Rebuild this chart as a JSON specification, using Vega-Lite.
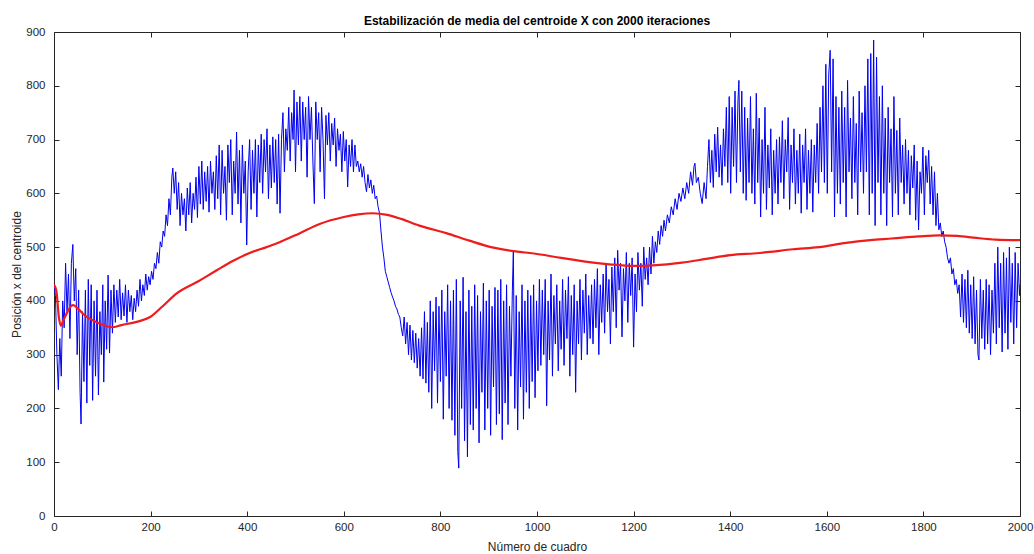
{
  "$schema": "https://vega.github.io/schema/vega-lite/v6.json",
  "autosize": "none",
  "width": 966,
  "height": 484,
  "padding": {"left": 54, "top": 32, "right": 14, "bottom": 38},
  "background": "white",
  "config": {
    "font": "Liberation Sans",
    "view": {"stroke": "#262626", "strokeWidth": 1},
    "axis": {
      "grid": false,
      "domain": false,
      "tickColor": "#262626",
      "tickSize": -5,
      "tickWidth": 1,
      "labelColor": "#262626",
      "labelFont": "Liberation Sans",
      "labelFontSize": 11.5,
      "labelFlush": false,
      "labelOverlap": false,
      "format": "d",
      "titleColor": "#262626",
      "titleFont": "Liberation Sans",
      "titleFontSize": 12,
      "titleFontWeight": "normal"
    }
  },
  "title": {
    "text": "Estabilización de media del centroide X con 2000 iteraciones",
    "anchor": "middle",
    "frame": "group",
    "font": "Liberation Sans",
    "fontSize": 12,
    "fontWeight": "bold",
    "color": "#000000",
    "baseline": "bottom",
    "offset": -14
  },
  "datasets": {
    "posicion": [
      {"cuadro":0,"x":430},{"cuadro":3,"x":410},{"cuadro":6,"x":300},{"cuadro":9,"x":235},{"cuadro":12,"x":330},{"cuadro":15,"x":260},{"cuadro":18,"x":400},{"cuadro":21,"x":350},{"cuadro":24,"x":470},{"cuadro":27,"x":380},{"cuadro":30,"x":450},{"cuadro":33,"x":330},{"cuadro":36,"x":470},{"cuadro":39,"x":505},{"cuadro":42,"x":400},{"cuadro":45,"x":460},{"cuadro":48,"x":300},{"cuadro":51,"x":420},{"cuadro":54,"x":230},{"cuadro":56,"x":171},{"cuadro":59,"x":380},
      {"cuadro":62,"x":250},{"cuadro":65,"x":420},{"cuadro":68,"x":210},{"cuadro":71,"x":440},{"cuadro":74,"x":280},{"cuadro":77,"x":430},{"cuadro":80,"x":215},{"cuadro":83,"x":400},{"cuadro":86,"x":260},{"cuadro":89,"x":420},{"cuadro":92,"x":225},{"cuadro":95,"x":380},{"cuadro":98,"x":300},{"cuadro":101,"x":430},{"cuadro":103,"x":249},{"cuadro":106,"x":400},{"cuadro":109,"x":310},{"cuadro":112,"x":448},{"cuadro":115,"x":303},{"cuadro":118,"x":420},
      {"cuadro":121,"x":340},{"cuadro":124,"x":430},{"cuadro":127,"x":360},{"cuadro":130,"x":420},{"cuadro":133,"x":370},{"cuadro":136,"x":440},{"cuadro":139,"x":365},{"cuadro":142,"x":415},{"cuadro":145,"x":372},{"cuadro":148,"x":430},{"cuadro":151,"x":360},{"cuadro":154,"x":420},{"cuadro":157,"x":380},{"cuadro":160,"x":410},{"cuadro":163,"x":365},{"cuadro":166,"x":405},{"cuadro":169,"x":380},{"cuadro":172,"x":420},{"cuadro":175,"x":390},{"cuadro":178,"x":440},{"cuadro":181,"x":400},{"cuadro":184,"x":430},{"cuadro":187,"x":410},{"cuadro":190,"x":450},{"cuadro":193,"x":420},{"cuadro":196,"x":445},{"cuadro":199,"x":430},
      {"cuadro":202,"x":455},{"cuadro":205,"x":440},{"cuadro":208,"x":470},{"cuadro":211,"x":460},{"cuadro":214,"x":490},{"cuadro":217,"x":470},{"cuadro":220,"x":510},{"cuadro":223,"x":500},{"cuadro":226,"x":530},{"cuadro":229,"x":520},{"cuadro":232,"x":560},{"cuadro":235,"x":540},{"cuadro":238,"x":590},{"cuadro":241,"x":560},{"cuadro":244,"x":630},{"cuadro":246,"x":647},{"cuadro":249,"x":600},
      {"cuadro":252,"x":640},{"cuadro":255,"x":570},{"cuadro":258,"x":620},{"cuadro":261,"x":540},{"cuadro":264,"x":600},{"cuadro":267,"x":560},{"cuadro":270,"x":590},{"cuadro":273,"x":530},{"cuadro":276,"x":610},{"cuadro":279,"x":560},{"cuadro":282,"x":620},{"cuadro":285,"x":545},{"cuadro":288,"x":600},{"cuadro":291,"x":570},{"cuadro":294,"x":630},{"cuadro":297,"x":555},{"cuadro":300,"x":650},
      {"cuadro":303,"x":580},{"cuadro":306,"x":660},{"cuadro":309,"x":570},{"cuadro":312,"x":640},{"cuadro":315,"x":585},{"cuadro":318,"x":650},{"cuadro":321,"x":565},{"cuadro":324,"x":660},{"cuadro":327,"x":600},{"cuadro":330,"x":640},{"cuadro":333,"x":570},{"cuadro":336,"x":670},{"cuadro":339,"x":590},{"cuadro":342,"x":690},{"cuadro":345,"x":560},{"cuadro":348,"x":680},{"cuadro":351,"x":600},{"cuadro":354,"x":650},{"cuadro":357,"x":550},{"cuadro":360,"x":690},{"cuadro":363,"x":620},{"cuadro":366,"x":700},{"cuadro":369,"x":560},{"cuadro":372,"x":660},{"cuadro":375,"x":600},{"cuadro":378,"x":714},{"cuadro":381,"x":580},{"cuadro":384,"x":680},{"cuadro":387,"x":545},{"cuadro":390,"x":690},{"cuadro":393,"x":600},{"cuadro":396,"x":660},{"cuadro":399,"x":504},
      {"cuadro":402,"x":640},{"cuadro":405,"x":700},{"cuadro":408,"x":570},{"cuadro":411,"x":680},{"cuadro":414,"x":600},{"cuadro":417,"x":700},{"cuadro":420,"x":556},{"cuadro":423,"x":690},{"cuadro":426,"x":620},{"cuadro":429,"x":710},{"cuadro":432,"x":600},{"cuadro":435,"x":700},{"cuadro":438,"x":640},{"cuadro":441,"x":720},{"cuadro":444,"x":590},{"cuadro":447,"x":690},{"cuadro":450,"x":610},{"cuadro":453,"x":705},{"cuadro":456,"x":620},{"cuadro":459,"x":700},{"cuadro":462,"x":580},{"cuadro":465,"x":710},{"cuadro":468,"x":563},
      {"cuadro":471,"x":700},{"cuadro":474,"x":750},{"cuadro":477,"x":640},{"cuadro":480,"x":720},{"cuadro":483,"x":680},{"cuadro":486,"x":760},{"cuadro":489,"x":660},{"cuadro":492,"x":750},{"cuadro":495,"x":700},{"cuadro":497,"x":792},{"cuadro":500,"x":640},{"cuadro":503,"x":770},{"cuadro":506,"x":690},{"cuadro":509,"x":780},
      {"cuadro":512,"x":660},{"cuadro":515,"x":770},{"cuadro":518,"x":700},{"cuadro":521,"x":760},{"cuadro":524,"x":630},{"cuadro":527,"x":780},{"cuadro":530,"x":700},{"cuadro":533,"x":760},{"cuadro":536,"x":660},{"cuadro":539,"x":581},{"cuadro":542,"x":770},{"cuadro":545,"x":700},{"cuadro":548,"x":750},{"cuadro":551,"x":640},{"cuadro":554,"x":760},{"cuadro":557,"x":700},{"cuadro":560,"x":590},{"cuadro":563,"x":745},
      {"cuadro":566,"x":690},{"cuadro":569,"x":750},{"cuadro":572,"x":660},{"cuadro":575,"x":730},{"cuadro":578,"x":690},{"cuadro":581,"x":740},{"cuadro":584,"x":650},{"cuadro":587,"x":720},{"cuadro":590,"x":680},{"cuadro":593,"x":710},{"cuadro":596,"x":640},{"cuadro":599,"x":715},{"cuadro":602,"x":660},{"cuadro":605,"x":700},{"cuadro":608,"x":612},{"cuadro":611,"x":690},{"cuadro":614,"x":650},{"cuadro":617,"x":700},{"cuadro":620,"x":640},{"cuadro":623,"x":690},{"cuadro":626,"x":650},
      {"cuadro":629,"x":660},{"cuadro":632,"x":640},{"cuadro":635,"x":655},{"cuadro":638,"x":630},{"cuadro":641,"x":650},{"cuadro":644,"x":620},{"cuadro":647,"x":603},{"cuadro":650,"x":635},{"cuadro":653,"x":610},{"cuadro":656,"x":625},{"cuadro":659,"x":600},{"cuadro":662,"x":615},{"cuadro":665,"x":590},{"cuadro":668,"x":595},{"cuadro":671,"x":575},{"cuadro":674,"x":563},{"cuadro":677,"x":530},{"cuadro":680,"x":500},{"cuadro":683,"x":480},{"cuadro":686,"x":455},{"cuadro":689,"x":445},{"cuadro":692,"x":435},{"cuadro":695,"x":425},{"cuadro":698,"x":415},{"cuadro":701,"x":407},{"cuadro":704,"x":400},{"cuadro":707,"x":390},{"cuadro":710,"x":385},{"cuadro":713,"x":375},{"cuadro":716,"x":370},{"cuadro":719,"x":350},{"cuadro":722,"x":335},
      {"cuadro":725,"x":370},{"cuadro":728,"x":320},{"cuadro":731,"x":360},{"cuadro":734,"x":300},{"cuadro":737,"x":355},{"cuadro":740,"x":290},{"cuadro":743,"x":345},{"cuadro":746,"x":285},{"cuadro":749,"x":340},{"cuadro":752,"x":275},{"cuadro":755,"x":330},{"cuadro":758,"x":260},{"cuadro":761,"x":350},{"cuadro":764,"x":255},{"cuadro":767,"x":380},{"cuadro":770,"x":247},
      {"cuadro":773,"x":360},{"cuadro":776,"x":230},{"cuadro":779,"x":400},{"cuadro":782,"x":200},{"cuadro":785,"x":380},{"cuadro":788,"x":270},{"cuadro":791,"x":407},{"cuadro":794,"x":210},{"cuadro":797,"x":390},{"cuadro":800,"x":250},{"cuadro":803,"x":420},{"cuadro":806,"x":180},{"cuadro":809,"x":380},{"cuadro":812,"x":260},{"cuadro":815,"x":430},{"cuadro":818,"x":200},{"cuadro":821,"x":400},{"cuadro":824,"x":178},
      {"cuadro":827,"x":420},{"cuadro":830,"x":150},{"cuadro":833,"x":440},{"cuadro":836,"x":120},{"cuadro":838,"x":89},{"cuadro":841,"x":400},{"cuadro":844,"x":200},{"cuadro":847,"x":444},{"cuadro":850,"x":140},{"cuadro":853,"x":380},{"cuadro":856,"x":110},{"cuadro":859,"x":420},{"cuadro":862,"x":170},{"cuadro":865,"x":390},
      {"cuadro":868,"x":160},{"cuadro":871,"x":430},{"cuadro":874,"x":200},{"cuadro":877,"x":410},{"cuadro":880,"x":136},{"cuadro":883,"x":380},{"cuadro":886,"x":230},{"cuadro":889,"x":433},{"cuadro":892,"x":160},{"cuadro":895,"x":400},{"cuadro":898,"x":200},{"cuadro":901,"x":420},{"cuadro":904,"x":150},{"cuadro":907,"x":390},{"cuadro":910,"x":240},{"cuadro":913,"x":425},{"cuadro":916,"x":170},
      {"cuadro":919,"x":420},{"cuadro":922,"x":190},{"cuadro":925,"x":440},{"cuadro":928,"x":142},{"cuadro":931,"x":400},{"cuadro":934,"x":210},{"cuadro":937,"x":430},{"cuadro":940,"x":170},{"cuadro":943,"x":390},{"cuadro":946,"x":260},{"cuadro":949,"x":420},{"cuadro":951,"x":491},{"cuadro":954,"x":200},{"cuadro":957,"x":410},{"cuadro":960,"x":160},{"cuadro":963,"x":380},{"cuadro":966,"x":240},{"cuadro":969,"x":430},{"cuadro":972,"x":180},{"cuadro":975,"x":400},{"cuadro":978,"x":230},{"cuadro":981,"x":420},{"cuadro":984,"x":200},
      {"cuadro":987,"x":410},{"cuadro":990,"x":250},{"cuadro":993,"x":430},{"cuadro":996,"x":220},{"cuadro":999,"x":400},{"cuadro":1002,"x":270},{"cuadro":1005,"x":440},
      {"cuadro":1008,"x":280},{"cuadro":1011,"x":420},{"cuadro":1014,"x":300},{"cuadro":1017,"x":440},{"cuadro":1020,"x":205},{"cuadro":1023,"x":400},{"cuadro":1026,"x":290},{"cuadro":1029,"x":450},{"cuadro":1032,"x":260},{"cuadro":1035,"x":410},{"cuadro":1038,"x":320},{"cuadro":1041,"x":430},{"cuadro":1044,"x":270},{"cuadro":1047,"x":400},{"cuadro":1050,"x":310},{"cuadro":1053,"x":440},{"cuadro":1056,"x":280},{"cuadro":1059,"x":420},{"cuadro":1062,"x":330},{"cuadro":1065,"x":445},{"cuadro":1068,"x":260},{"cuadro":1071,"x":410},{"cuadro":1074,"x":300},{"cuadro":1077,"x":430},{"cuadro":1080,"x":230},{"cuadro":1083,"x":400},{"cuadro":1086,"x":320},{"cuadro":1089,"x":440},{"cuadro":1092,"x":290},{"cuadro":1095,"x":420},{"cuadro":1098,"x":340},{"cuadro":1101,"x":450},{"cuadro":1104,"x":300},{"cuadro":1107,"x":410},{"cuadro":1110,"x":330},{"cuadro":1113,"x":430},
      {"cuadro":1116,"x":320},{"cuadro":1119,"x":440},{"cuadro":1122,"x":350},{"cuadro":1125,"x":460},{"cuadro":1128,"x":300},{"cuadro":1131,"x":430},{"cuadro":1134,"x":360},{"cuadro":1137,"x":450},{"cuadro":1140,"x":340},{"cuadro":1143,"x":470},{"cuadro":1146,"x":380},{"cuadro":1149,"x":440},{"cuadro":1152,"x":320},{"cuadro":1155,"x":463},
      {"cuadro":1158,"x":380},{"cuadro":1161,"x":480},{"cuadro":1164,"x":350},{"cuadro":1167,"x":494},{"cuadro":1170,"x":420},{"cuadro":1173,"x":470},{"cuadro":1176,"x":333},{"cuadro":1179,"x":460},{"cuadro":1182,"x":400},{"cuadro":1185,"x":490},{"cuadro":1188,"x":360},{"cuadro":1191,"x":470},{"cuadro":1194,"x":410},{"cuadro":1197,"x":480},{"cuadro":1200,"x":314},{"cuadro":1203,"x":450},{"cuadro":1206,"x":380},{"cuadro":1209,"x":490},{"cuadro":1212,"x":420},{"cuadro":1215,"x":470},{"cuadro":1218,"x":390},{"cuadro":1221,"x":500},{"cuadro":1224,"x":440},
      {"cuadro":1227,"x":480},{"cuadro":1230,"x":430},{"cuadro":1233,"x":500},{"cuadro":1236,"x":450},{"cuadro":1239,"x":520},{"cuadro":1242,"x":470},{"cuadro":1245,"x":510},{"cuadro":1248,"x":490},{"cuadro":1251,"x":530},{"cuadro":1254,"x":505},{"cuadro":1257,"x":540},{"cuadro":1260,"x":520},{"cuadro":1263,"x":550},{"cuadro":1266,"x":530},
      {"cuadro":1270,"x":560},{"cuadro":1274,"x":545},{"cuadro":1278,"x":575},{"cuadro":1282,"x":560},{"cuadro":1286,"x":590},{"cuadro":1290,"x":570},{"cuadro":1294,"x":600},{"cuadro":1298,"x":585},{"cuadro":1302,"x":610},{"cuadro":1306,"x":590},{"cuadro":1310,"x":620},{"cuadro":1314,"x":600},{"cuadro":1318,"x":640},{"cuadro":1322,"x":615},{"cuadro":1325,"x":650},{"cuadro":1327,"x":656},{"cuadro":1330,"x":620},{"cuadro":1334,"x":630},{"cuadro":1338,"x":600},{"cuadro":1342,"x":581},{"cuadro":1346,"x":620},{"cuadro":1350,"x":590},
      {"cuadro":1353,"x":650},{"cuadro":1356,"x":700},{"cuadro":1359,"x":620},{"cuadro":1362,"x":680},{"cuadro":1365,"x":611},{"cuadro":1368,"x":710},{"cuadro":1371,"x":640},{"cuadro":1374,"x":723},{"cuadro":1377,"x":630},{"cuadro":1380,"x":690},{"cuadro":1383,"x":615},{"cuadro":1386,"x":720},{"cuadro":1389,"x":650},
      {"cuadro":1392,"x":760},{"cuadro":1395,"x":620},{"cuadro":1398,"x":780},{"cuadro":1401,"x":600},{"cuadro":1404,"x":760},{"cuadro":1407,"x":650},{"cuadro":1410,"x":790},{"cuadro":1413,"x":620},{"cuadro":1416,"x":770},{"cuadro":1418,"x":810},{"cuadro":1421,"x":640},{"cuadro":1424,"x":790},{"cuadro":1427,"x":600},{"cuadro":1430,"x":760},{"cuadro":1433,"x":587},{"cuadro":1436,"x":740},{"cuadro":1439,"x":620},{"cuadro":1442,"x":780},{"cuadro":1445,"x":600},
      {"cuadro":1448,"x":720},{"cuadro":1451,"x":580},{"cuadro":1454,"x":786},{"cuadro":1457,"x":620},{"cuadro":1460,"x":740},{"cuadro":1463,"x":556},{"cuadro":1466,"x":700},{"cuadro":1469,"x":600},{"cuadro":1472,"x":760},{"cuadro":1475,"x":570},{"cuadro":1478,"x":690},{"cuadro":1481,"x":610},{"cuadro":1484,"x":720},{"cuadro":1487,"x":560},{"cuadro":1490,"x":680},{"cuadro":1493,"x":600},{"cuadro":1496,"x":700},{"cuadro":1499,"x":580},
      {"cuadro":1502,"x":705},{"cuadro":1505,"x":620},{"cuadro":1508,"x":735},{"cuadro":1511,"x":590},{"cuadro":1514,"x":700},{"cuadro":1517,"x":640},{"cuadro":1520,"x":741},{"cuadro":1523,"x":570},{"cuadro":1526,"x":690},{"cuadro":1529,"x":620},{"cuadro":1532,"x":720},{"cuadro":1535,"x":580},{"cuadro":1538,"x":680},{"cuadro":1541,"x":600},{"cuadro":1544,"x":710},{"cuadro":1547,"x":563},{"cuadro":1550,"x":690},{"cuadro":1553,"x":620},{"cuadro":1556,"x":720},{"cuadro":1559,"x":570},{"cuadro":1562,"x":680},{"cuadro":1565,"x":600},{"cuadro":1568,"x":700},{"cuadro":1571,"x":565},{"cuadro":1574,"x":690},{"cuadro":1577,"x":620},{"cuadro":1580,"x":730},{"cuadro":1583,"x":600},{"cuadro":1586,"x":760},{"cuadro":1589,"x":640},
      {"cuadro":1592,"x":800},{"cuadro":1595,"x":620},{"cuadro":1598,"x":840},{"cuadro":1601,"x":600},{"cuadro":1604,"x":820},{"cuadro":1607,"x":866},{"cuadro":1610,"x":640},{"cuadro":1613,"x":850},{"cuadro":1616,"x":556},{"cuadro":1619,"x":780},{"cuadro":1622,"x":600},{"cuadro":1625,"x":760},
      {"cuadro":1628,"x":580},{"cuadro":1631,"x":790},{"cuadro":1634,"x":620},{"cuadro":1637,"x":760},{"cuadro":1640,"x":556},{"cuadro":1643,"x":810},{"cuadro":1646,"x":640},{"cuadro":1649,"x":740},{"cuadro":1652,"x":590},{"cuadro":1655,"x":780},{"cuadro":1658,"x":620},{"cuadro":1661,"x":730},{"cuadro":1664,"x":560},{"cuadro":1667,"x":790},{"cuadro":1670,"x":640},{"cuadro":1673,"x":750},{"cuadro":1676,"x":600},{"cuadro":1679,"x":800},
      {"cuadro":1682,"x":640},{"cuadro":1685,"x":850},{"cuadro":1688,"x":560},{"cuadro":1691,"x":860},{"cuadro":1694,"x":600},{"cuadro":1697,"x":885},{"cuadro":1700,"x":540},{"cuadro":1703,"x":853},{"cuadro":1706,"x":620},
      {"cuadro":1709,"x":780},{"cuadro":1712,"x":560},{"cuadro":1715,"x":800},{"cuadro":1718,"x":600},{"cuadro":1721,"x":740},{"cuadro":1724,"x":540},{"cuadro":1727,"x":760},{"cuadro":1730,"x":620},{"cuadro":1733,"x":720},{"cuadro":1736,"x":556},{"cuadro":1739,"x":780},{"cuadro":1742,"x":600},{"cuadro":1745,"x":717},{"cuadro":1748,"x":560},{"cuadro":1751,"x":740},{"cuadro":1754,"x":620},
      {"cuadro":1757,"x":690},{"cuadro":1760,"x":580},{"cuadro":1763,"x":700},{"cuadro":1766,"x":600},{"cuadro":1769,"x":680},{"cuadro":1772,"x":560},{"cuadro":1775,"x":670},{"cuadro":1778,"x":610},{"cuadro":1781,"x":690},{"cuadro":1784,"x":550},{"cuadro":1787,"x":660},{"cuadro":1790,"x":532},{"cuadro":1793,"x":640},{"cuadro":1796,"x":600},{"cuadro":1799,"x":686},{"cuadro":1802,"x":560},{"cuadro":1805,"x":670},{"cuadro":1808,"x":620},{"cuadro":1811,"x":680},{"cuadro":1814,"x":580},{"cuadro":1817,"x":650},{"cuadro":1820,"x":560},{"cuadro":1823,"x":640},{"cuadro":1826,"x":540},{"cuadro":1829,"x":600},{"cuadro":1832,"x":532},
      {"cuadro":1835,"x":545},{"cuadro":1838,"x":520},{"cuadro":1841,"x":530},{"cuadro":1844,"x":510},{"cuadro":1847,"x":500},{"cuadro":1850,"x":480},{"cuadro":1853,"x":470},{"cuadro":1856,"x":480},{"cuadro":1859,"x":450},{"cuadro":1862,"x":460},{"cuadro":1865,"x":430},{"cuadro":1868,"x":440},{"cuadro":1871,"x":414},{"cuadro":1874,"x":430},
      {"cuadro":1877,"x":370},{"cuadro":1880,"x":450},{"cuadro":1883,"x":360},{"cuadro":1886,"x":440},{"cuadro":1889,"x":350},{"cuadro":1892,"x":457},{"cuadro":1895,"x":340},{"cuadro":1898,"x":430},{"cuadro":1901,"x":330},{"cuadro":1904,"x":445},{"cuadro":1907,"x":320},{"cuadro":1910,"x":420},{"cuadro":1913,"x":300},{"cuadro":1915,"x":290},{"cuadro":1918,"x":440},{"cuadro":1921,"x":330},{"cuadro":1924,"x":420},{"cuadro":1927,"x":310},{"cuadro":1930,"x":440},{"cuadro":1933,"x":320},{"cuadro":1936,"x":430},{"cuadro":1939,"x":300},{"cuadro":1942,"x":420},
      {"cuadro":1945,"x":340},{"cuadro":1948,"x":470},{"cuadro":1951,"x":320},{"cuadro":1954,"x":500},{"cuadro":1957,"x":350},{"cuadro":1960,"x":470},{"cuadro":1963,"x":305},{"cuadro":1966,"x":490},{"cuadro":1969,"x":340},{"cuadro":1972,"x":480},{"cuadro":1975,"x":310},{"cuadro":1978,"x":500},{"cuadro":1981,"x":360},{"cuadro":1984,"x":470},{"cuadro":1987,"x":320},{"cuadro":1990,"x":490},{"cuadro":1993,"x":350},{"cuadro":1996,"x":470},{"cuadro":1999,"x":410},{"cuadro":2000,"x":430}
    ],
    "media": [
      {"cuadro":0,"m":430},{"cuadro":5,"m":418},{"cuadro":10,"m":370},{"cuadro":14,"m":354},{"cuadro":20,"m":365},{"cuadro":28,"m":380},{"cuadro":35,"m":390},{"cuadro":40,"m":392},{"cuadro":50,"m":385},{"cuadro":65,"m":372},{"cuadro":80,"m":364},{"cuadro":100,"m":356},{"cuadro":120,"m":351},{"cuadro":140,"m":355},{"cuadro":171,"m":361},{"cuadro":199,"m":370},{"cuadro":225,"m":390},{"cuadro":254,"m":414},{"cuadro":300,"m":437},{"cuadro":337,"m":457},{"cuadro":370,"m":474},{"cuadro":405,"m":489},{"cuadro":440,"m":500},{"cuadro":467,"m":509},{"cuadro":509,"m":526},{"cuadro":550,"m":543},{"cuadro":600,"m":556},{"cuadro":630,"m":561},{"cuadro":660,"m":563},{"cuadro":690,"m":560},{"cuadro":720,"m":552},{"cuadro":760,"m":539},{"cuadro":812,"m":526},{"cuadro":860,"m":512},{"cuadro":910,"m":499},{"cuadro":964,"m":491},{"cuadro":985,"m":489},{"cuadro":1050,"m":480},{"cuadro":1100,"m":473},{"cuadro":1150,"m":468},{"cuadro":1200,"m":465},{"cuadro":1240,"m":466},{"cuadro":1300,"m":471},{"cuadro":1350,"m":478},{"cuadro":1400,"m":485},{"cuadro":1460,"m":489},{"cuadro":1481,"m":491},{"cuadro":1530,"m":496},{"cuadro":1584,"m":500},{"cuadro":1640,"m":508},{"cuadro":1690,"m":513},{"cuadro":1735,"m":516},{"cuadro":1790,"m":520},{"cuadro":1833,"m":522},{"cuadro":1870,"m":521},{"cuadro":1910,"m":517},{"cuadro":1950,"m":514},{"cuadro":2000,"m":513}
    ]
  },
  "layer": [
    {
      "data": {"name": "posicion"},
      "mark": {"type": "line", "color": "#0000f0", "strokeWidth": 1, "clip": true},
      "encoding": {
        "x": {
          "field": "cuadro", "type": "quantitative",
          "scale": {"domain": [0, 2000], "nice": false, "zero": false},
          "axis": {"orient": "bottom", "values": [0,200,400,600,800,1000,1200,1400,1600,1800,2000], "labelPadding": 10, "title": "Número de cuadro", "titlePadding": 9}
        },
        "y": {
          "field": "x", "type": "quantitative",
          "scale": {"domain": [0, 900], "nice": false},
          "axis": {"orient": "left", "values": [0,100,200,300,400,500,600,700,800,900], "labelPadding": 14, "title": "Posición x del centroide", "titlePadding": 2}
        }
      }
    },
    {
      "data": {"name": "media"},
      "mark": {"type": "line", "color": "#ee1c1c", "strokeWidth": 2.2, "interpolate": "monotone", "clip": true},
      "encoding": {
        "x": {
          "field": "cuadro", "type": "quantitative",
          "axis": {"orient": "top", "values": [0,200,400,600,800,1000,1200,1400,1600,1800,2000], "labels": false, "title": null}
        },
        "y": {
          "field": "m", "type": "quantitative",
          "axis": {"orient": "right", "values": [0,100,200,300,400,500,600,700,800,900], "labels": false, "title": null}
        }
      }
    }
  ],
  "resolve": {"axis": {"x": "independent", "y": "independent"}}
}
